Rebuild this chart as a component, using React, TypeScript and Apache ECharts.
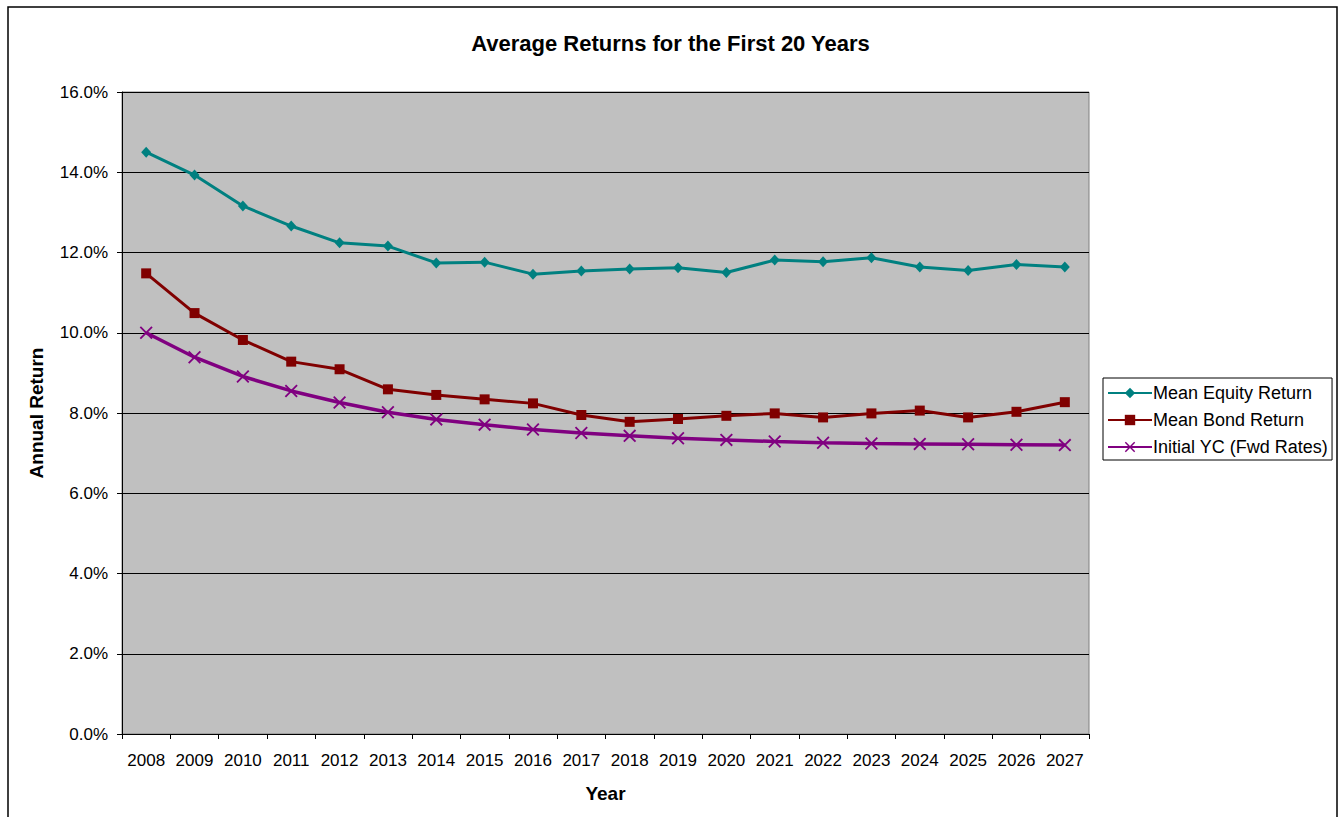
import React, { useEffect, useRef } from "react";
import * as echarts from "echarts";

const years = [
  "2008", "2009", "2010", "2011", "2012", "2013", "2014", "2015", "2016", "2017",
  "2018", "2019", "2020", "2021", "2022", "2023", "2024", "2025", "2026", "2027",
];

const meanEquityReturn = [
  14.5, 13.93, 13.16, 12.66, 12.24, 12.16, 11.74, 11.76, 11.46, 11.54,
  11.59, 11.62, 11.5, 11.81, 11.77, 11.87, 11.64, 11.55, 11.7, 11.64,
];

const meanBondReturn = [
  11.48, 10.49, 9.82, 9.28, 9.09, 8.59, 8.45, 8.34, 8.24, 7.95,
  7.78, 7.85, 7.93, 7.99, 7.89, 7.99, 8.06, 7.89, 8.03, 8.27,
];

const initialYcFwdRates = [
  10.0, 9.39, 8.91, 8.55, 8.26, 8.02, 7.84, 7.71, 7.59, 7.5,
  7.43, 7.37, 7.33, 7.29, 7.26, 7.24, 7.23, 7.22, 7.21, 7.2,
];

const FONT = "'Liberation Sans', Arial, sans-serif";
const CROSS = "path://M0,1L1,0L5,4L9,0L10,1L6,5L10,9L9,10L5,6L1,10L0,9L4,5Z";

export default function App() {
  const ref = useRef<HTMLDivElement>(null);

  useEffect(() => {
    if (!ref.current) return;
    const chart = echarts.init(ref.current, undefined, { renderer: "svg" });
    chart.setOption({
      animation: false,
      backgroundColor: "#ffffff",
      textStyle: { fontFamily: FONT, color: "#000" },
      title: {
        text: "Average Returns for the First 20 Years",
        left: "center",
        top: 27,
        textStyle: { fontFamily: FONT, fontSize: 22, fontWeight: "bold", color: "#000" },
      },
      graphic: [
        {
          type: "rect",
          shape: { x: 8, y: 7, width: 1329, height: 840 },
          style: { fill: "none", stroke: "#000", lineWidth: 1.5 },
          silent: true,
          z: 100,
        },
      ],
      legend: {
        orient: "vertical",
        left: 1103,
        top: 378,
        padding: [6, 4, 4, 4],
        itemGap: 9,
        itemWidth: 44,
        itemHeight: 13,
        borderColor: "#000",
        borderWidth: 1,
        backgroundColor: "#fff",
        textStyle: { fontFamily: FONT, fontSize: 18, color: "#000", padding: [0, 0, 0, -4] },
        data: ["Mean Equity Return", "Mean Bond Return", "Initial YC (Fwd Rates)"],
      },
      grid: {
        left: 122,
        top: 92,
        right: 252,
        bottom: 83,
        show: true,
        backgroundColor: "#c0c0c0",
        borderColor: "#808080",
        borderWidth: 1,
      },
      xAxis: {
        type: "category",
        data: years,
        boundaryGap: true,
        name: "Year",
        nameLocation: "middle",
        nameGap: 50,
        nameTextStyle: { fontFamily: FONT, fontSize: 19, fontWeight: "bold", color: "#000" },
        axisLine: { lineStyle: { color: "#000", width: 1 } },
        axisTick: { show: true, length: 5, lineStyle: { color: "#000" } },
        axisLabel: { fontFamily: FONT, fontSize: 17, color: "#000", margin: 18, interval: 0 },
        splitLine: { show: false },
      },
      yAxis: {
        type: "value",
        min: 0,
        max: 16,
        interval: 2,
        name: "Annual Return",
        nameLocation: "middle",
        nameGap: 76,
        nameRotate: 90,
        nameTextStyle: { fontFamily: FONT, fontSize: 19, fontWeight: "bold", color: "#000" },
        axisLine: { show: true, lineStyle: { color: "#000", width: 1 } },
        axisTick: { show: true, length: 5, lineStyle: { color: "#000" } },
        axisLabel: {
          fontFamily: FONT,
          fontSize: 17,
          color: "#000",
          margin: 14,
          formatter: (v: number) => v.toFixed(1) + "%",
        },
        splitLine: { show: true, lineStyle: { color: "#000", width: 1 } },
      },
      series: [
        {
          name: "Mean Equity Return",
          type: "line",
          data: meanEquityReturn,
          symbol: "diamond",
          symbolSize: [10, 11],
          showAllSymbol: true,
          lineStyle: { color: "#008080", width: 3 },
          itemStyle: { color: "#008080" },
          z: 3,
        },
        {
          name: "Mean Bond Return",
          type: "line",
          data: meanBondReturn,
          symbol: "rect",
          symbolSize: 10,
          showAllSymbol: true,
          lineStyle: { color: "#800000", width: 3 },
          itemStyle: { color: "#800000" },
          z: 3,
        },
        {
          name: "Initial YC (Fwd Rates)",
          type: "line",
          data: initialYcFwdRates,
          symbol: CROSS,
          symbolSize: 13,
          showAllSymbol: true,
          lineStyle: { color: "#800080", width: 3.5 },
          itemStyle: { color: "#800080" },
          z: 3,
        },
      ],
    });
    return () => chart.dispose();
  }, []);

  return (
    <div
      ref={ref}
      style={{ position: "fixed", left: 0, top: 0, width: 1341, height: 817 }}
    />
  );
}
